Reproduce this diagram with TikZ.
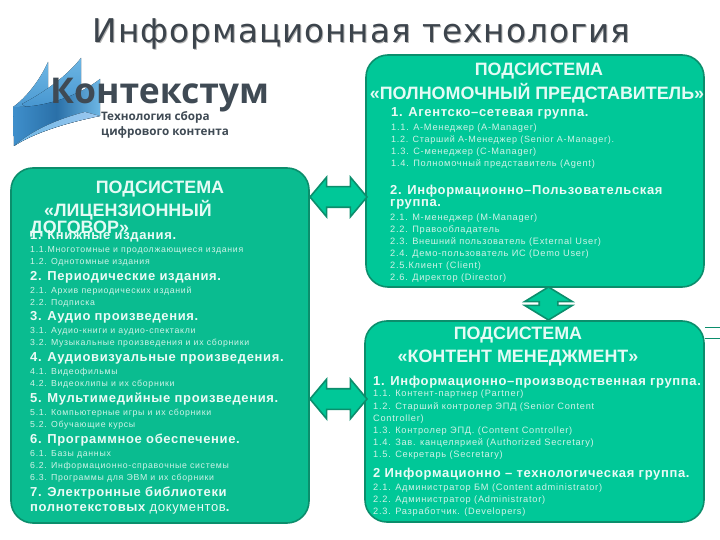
\documentclass[tikz,border=0pt]{standalone}
\usepackage{fontspec}
\usetikzlibrary{shapes.arrows}
\setmainfont{Liberation Sans}
\newfontfamily\titlefont{DejaVu Sans}[LetterSpace=3]
\newfontfamily\logofont{Open Sans}
\newfontfamily\capf{Liberation Sans}[LetterSpace=0]
\newfontfamily\grpf{Liberation Sans}[LetterSpace=5]
\newfontfamily\itemf{Liberation Sans}[LetterSpace=8]
\definecolor{boxfill}{HTML}{00C898}
\definecolor{leftfill}{HTML}{0ABC90}
\definecolor{edge}{HTML}{0B8E6C}
\definecolor{captxt}{HTML}{E4FBF5}
\definecolor{grptxt}{HTML}{EAFBF6}
\definecolor{itemtxt}{HTML}{CFF3E8}
\definecolor{titletxt}{HTML}{3C444C}
\definecolor{logotxt}{HTML}{3F4A54}
\definecolor{sailtop}{HTML}{6DB6E4}
\definecolor{sailmid}{HTML}{3F8FCB}
\definecolor{saildark}{HTML}{2A70A8}
\definecolor{saillight}{HTML}{9CC8F0}
\tikzset{
  panel/.style={draw=edge,line width=1.6pt,rounded corners=22pt,fill=boxfill,inner sep=0pt},
  linkh/.style={double arrow,draw=edge,line width=1.6pt,fill=boxfill,inner sep=0pt},
  capnode/.style={inner sep=0pt,text=captxt,font=\capf\bfseries\fontsize{17.9}{19}\selectfont},
  grpnode/.style={inner sep=0pt,anchor=west,text=grptxt,font=\grpf\bfseries\fontsize{13}{15}\selectfont},
  itemnode/.style={inner sep=0pt,anchor=west,text=itemtxt,font=\itemf\fontsize{9.25}{11}\selectfont},
  leftitem/.style={itemnode,font=\itemf\fontsize{8.75}{11}\selectfont},
}
\newcommand{\grp}[4]{\node[grpnode] (#1) at (#2,#3) {#4};}
\newcommand{\itm}[4]{\node[itemnode] (#1) at (#2,#3) {#4};}
\newcommand{\litm}[4]{\node[leftitem] (#1) at (#2,#3) {#4};}
\begin{document}
\begin{tikzpicture}[x=1pt,y=-1pt]
\useasboundingbox (0,0) rectangle (720,540);
% title
\node[inner sep=0pt,text=black!30,font=\titlefont\fontsize{32.7}{36}\selectfont] (titleshadow) at (362.5,35) {Информационная технология};
\node[inner sep=0pt,text=titletxt,font=\titlefont\fontsize{32.7}{36}\selectfont] (title) at (361.5,34) {Информационная технология};
% logo
\fill[top color=sailtop,bottom color=sailmid] (13,107) .. controls (26,98) and (40,80) .. (48,62) -- (48,105) -- (13,125) -- cycle;
\fill[top color=sailtop,bottom color=sailmid] (22,104) .. controls (45,92) and (68,75) .. (81,58) -- (81,105) -- (40,118) -- cycle;
\fill[left color=sailmid,right color=sailtop,middle color=saildark] (13,107) .. controls (45,108) and (80,95) .. (100,79) -- (100,116) .. controls (70,122) and (35,132) .. (14,146) -- cycle;
\fill[left color=sailtop,right color=saillight] (14,146) .. controls (35,128) and (62,118) .. (85,112) -- (100,116) .. controls (70,122) and (35,132) .. (14,146) -- cycle;
\node[inner sep=0pt,anchor=west,text=logotxt,font=\logofont\bfseries\fontsize{35.5}{38}\selectfont] (logoname) at (50,95) {Контекстум};
\node[inner sep=0pt,anchor=west,text=logotxt,font=\logofont\bfseries\fontsize{11.7}{13}\selectfont] (logoline1) at (101,117) {Технология сбора};
\node[inner sep=0pt,anchor=west,text=logotxt,font=\logofont\bfseries\fontsize{11.7}{13}\selectfont] (logoline2) at (101,132) {цифрового контента};
% panels
\node[panel,minimum width=338pt,minimum height=232pt] (agent) at (535,171) {};
\node[panel,fill=leftfill,minimum width=298pt,minimum height=355pt] (licence) at (160,345.5) {};
\node[panel,minimum width=339pt,minimum height=201pt] (content) at (534.5,421.5) {};
% arrows
\node[linkh,minimum height=57pt,minimum width=38pt,inner ysep=9.5pt,double arrow head extend=9.5pt,double arrow tip angle=100] (linka) at (338.5,197) {};
\node[linkh,minimum height=57pt,minimum width=38pt,inner ysep=9.5pt,double arrow head extend=9.5pt,double arrow tip angle=100] (linkb) at (338.5,399) {};
\node[linkh,shape border rotate=90,minimum height=33pt,minimum width=46pt,inner sep=8.5pt,double arrow head extend=14.5pt,double arrow tip angle=117] (linkc) at (548.5,303.5) {};
% stubs
\coordinate (stuba) at (720,327);
\coordinate (stubb) at (720,338);
\draw[edge,line width=.7pt] (content.east |- stuba) -- (stuba);
\draw[edge,line width=.7pt] (content.east |- stubb) -- (stubb);
% top right
\node[capnode] (c1a) at (539,71) {ПОДСИСТЕМА};
\node[capnode] (c1b) at (537,93) {«ПОЛНОМОЧНЫЙ ПРЕДСТАВИТЕЛЬ»};
\grp{a1}{391}{113}{1. Агентско–сетевая группа.}
\itm{a11}{391}{128}{1.1. А-Менеджер (A-Manager)}
\node[itemnode,font=\itemf\fontsize{9}{11}\selectfont] (a12) at (391,140) {1.2. Старший А-Менеджер (Senior A-Manager).};
\itm{a13}{391}{152}{1.3. С-менеджер (С-Manager)}
\itm{a14}{391}{164}{1.4. Полномочный представитель (Agent)}
\grp{a2}{390}{191}{2. Информационно–Пользовательская}
\grp{a2b}{390}{204}{группа.}
\itm{a21}{390}{218}{2.1. М-менеджер (M-Manager)}
\itm{a22}{390}{230}{2.2. Правообладатель}
\itm{a23}{390}{242}{2.3. Внешний пользователь (External User)}
\itm{a24}{390}{254}{2.4. Демо-пользователь ИС  (Demo User)}
\itm{a25}{390}{266}{2.5.Клиент  (Client)}
\itm{a26}{390}{278}{2.6. Директор (Director)}
% left
\node[capnode] (c2a) at (160,189) {ПОДСИСТЕМА};
\node[capnode] (c2b) at (128,210) {«ЛИЦЕНЗИОННЫЙ};
\node[capnode,anchor=west] (c2c) at (30,229) {ДОГОВОР»};
\grp{l1}{30}{236}{1. Книжные издания.}
\litm{l11}{30}{250}{1.1.Многотомные и продолжающиеся издания}
\litm{l12}{30}{262}{1.2. Однотомные издания}
\grp{l2}{30}{277}{2. Периодические издания.}
\litm{l21}{30}{291}{2.1. Архив периодических изданий}
\litm{l22}{30}{303}{2.2. Подписка}
\grp{l3}{30}{317}{3. Аудио произведения.}
\litm{l31}{30}{331}{3.1. Аудио-книги и аудио-спектакли}
\litm{l32}{30}{343}{3.2. Музыкальные произведения и их сборники}
\grp{l4}{30}{358}{4. Аудиовизуальные произведения.}
\litm{l41}{30}{372}{4.1. Видеофильмы}
\litm{l42}{30}{384}{4.2. Видеоклипы и их сборники}
\grp{l5}{30}{399}{5. Мультимедийные произведения.}
\litm{l51}{30}{413}{5.1. Компьютерные игры и их сборники}
\litm{l52}{30}{425}{5.2. Обучающие курсы}
\grp{l6}{30}{440}{6. Программное обеспечение.}
\litm{l61}{30}{454}{6.1. Базы данных}
\litm{l62}{30}{466}{6.2. Информационно-справочные системы}
\litm{l63}{30}{478}{6.3. Программы для ЭВМ и их сборники}
\grp{l7}{30}{493}{7. Электронные библиотеки}
\node[grpnode] (l7b) at (30,509) {полнотекстовых {\mdseries документов}.};
% bottom right
\node[capnode] (c3a) at (518,335) {ПОДСИСТЕМА};
\node[capnode] (c3b) at (518,358) {«КОНТЕНТ МЕНЕДЖМЕНТ»};
\grp{b1}{373}{382}{1. Информационно–производственная группа.}
\itm{b11}{373}{394}{1.1. Контент-партнер (Partner)}
\itm{b12}{373}{407}{1.2. Старший контролер ЭПД  (Senior Content}
\itm{b12b}{373}{419}{Controller)}
\itm{b13}{373}{431}{1.3. Контролер ЭПД. (Content Controller)}
\itm{b14}{373}{443}{1.4. Зав. канцелярией  (Authorized Secretary)}
\itm{b15}{373}{455}{1.5. Секретарь  (Secretary)}
\grp{b2}{373}{474}{2 Информационно – технологическая группа.}
\itm{b21}{373}{488}{2.1. Администратор БМ (Content administrator)}
\itm{b22}{373}{500}{2.2. Администратор  (Administrator)}
\itm{b23}{373}{512}{2.3. Разработчик. (Developers)}
\end{tikzpicture}
\end{document}
